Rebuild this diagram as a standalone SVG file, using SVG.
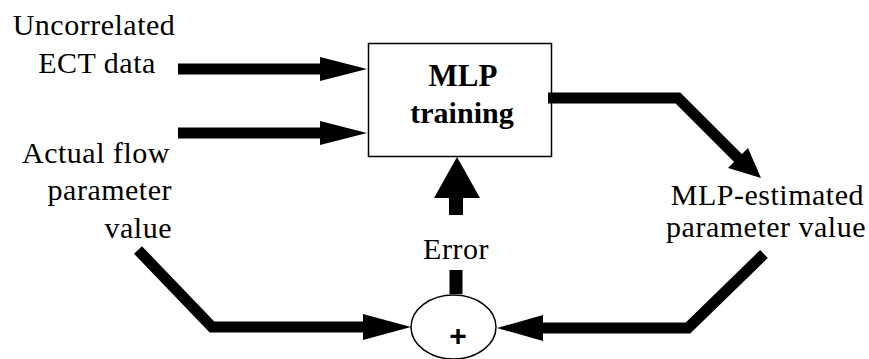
<svg xmlns="http://www.w3.org/2000/svg" width="869" height="359" viewBox="0 0 869 359" font-family="Liberation Serif, serif" font-size="30">
  <style>
    .lbl { letter-spacing: 0.5px; }
    .shaft { fill: none; stroke: #000; stroke-width: 11; stroke-linejoin: miter; stroke-linecap: butt; }
    .head { fill: #000; stroke: none; }
    .outline { fill: #fff; stroke: #000; stroke-width: 1.5; }
  </style>
  <rect width="869" height="359" fill="#fff"/>

  <!-- input labels -->
  <g id="ect-data" class="lbl" text-anchor="middle">
    <text x="94" y="35">Uncorrelated</text>
    <text x="97" y="73">ECT data</text>
  </g>
  <g id="actual-flow" class="lbl" text-anchor="end">
    <text x="170" y="163">Actual flow</text>
    <text x="172" y="200">parameter</text>
    <text x="172" y="238">value</text>
  </g>

  <!-- training block -->
  <g id="mlp-training" text-anchor="middle" font-weight="bold">
    <rect class="outline" x="368.5" y="43.5" width="183" height="113"/>
    <text x="463" y="86" font-size="31">MLP</text>
    <text x="462" y="123">training</text>
  </g>

  <g id="estimated" class="lbl" text-anchor="end">
    <text x="864" y="205">MLP-estimated</text>
    <text x="866" y="237">parameter value</text>
  </g>

  <g id="error-label" class="lbl">
    <text x="456" y="259" text-anchor="middle">Error</text>
  </g>

  <!-- summing junction -->
  <g id="sum">
    <ellipse class="outline" cx="453.5" cy="327" rx="42.5" ry="32"/>
    <text x="458" y="346" font-family="Liberation Sans, sans-serif" font-weight="bold" text-anchor="middle">+</text>
  </g>

  <!-- connectors -->
  <g id="connectors">
    <!-- ECT data into training -->
    <path class="shaft" d="M178 69 H322"/>
    <polygon class="head" points="320,57 367,69 320,81"/>
    <!-- actual value into training -->
    <path class="shaft" d="M178 133 H322"/>
    <polygon class="head" points="320,121 367,133 320,145"/>
    <!-- training output to estimate -->
    <path class="shaft" d="M548 98 H678 L740 160"/>
    <polygon class="head" points="728,168 761,178 748,148"/>
    <!-- error feedback up into training -->
    <path class="shaft" d="M456 215 V196" style="stroke-width:14"/>
    <polygon class="head" points="434,198 457,157 480,198"/>
    <path class="shaft" d="M456 294 V270" style="stroke-width:13"/>
    <!-- actual value into junction -->
    <path class="shaft" d="M138 250 L212 327 H365"/>
    <polygon class="head" points="363,314 411,327 363,340"/>
    <!-- estimate into junction -->
    <path class="shaft" d="M764 254 L688 328 H541"/>
    <polygon class="head" points="543,315 497,328 543,341"/>
  </g>
</svg>
